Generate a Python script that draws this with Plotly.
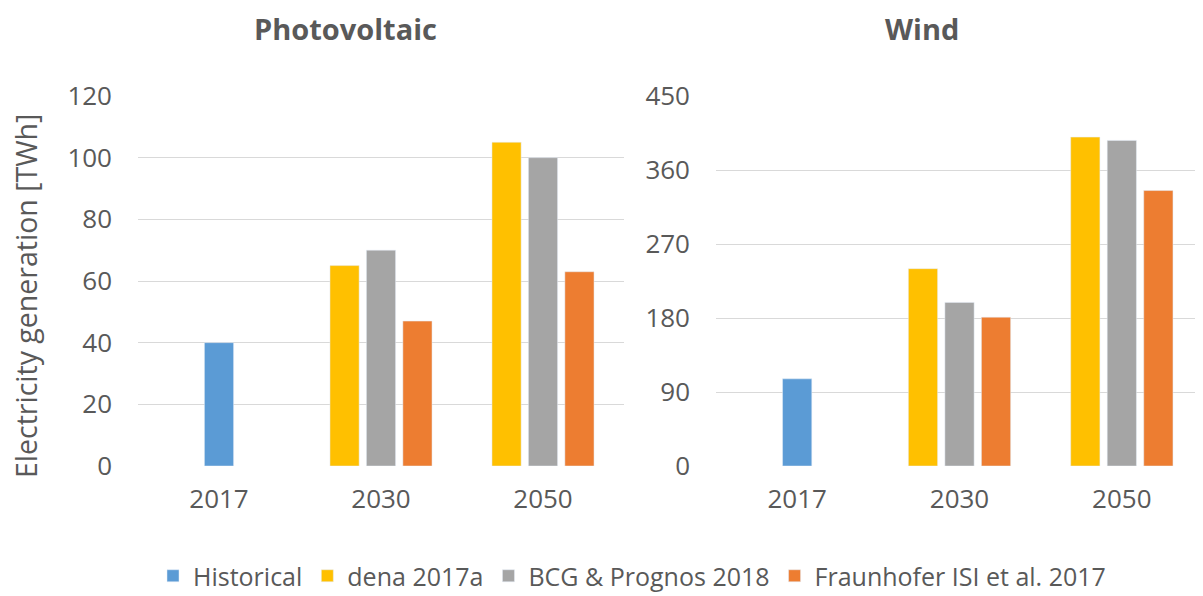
import plotly.graph_objects as go
from plotly.subplots import make_subplots

categories = ["2017", "2030", "2050"]
series_names = ["Historical", "dena 2017a", "BCG & Prognos 2018", "Fraunhofer ISI et al. 2017"]
series_colors = ["#5B9BD5", "#FFC000", "#A5A5A5", "#ED7D31"]

pv_historical = [40, None, None]
pv_dena = [None, 65, 105]
pv_bcg = [None, 70, 100]
pv_fraunhofer = [None, 47, 63]

wind_historical = [106, None, None]
wind_dena = [None, 240, 400]
wind_bcg = [None, 199, 396]
wind_fraunhofer = [None, 181, 335]

pv_ticks = [0, 20, 40, 60, 80, 100, 120]
wind_ticks = [0, 90, 180, 270, 360, 450]

# the page body adds an 8px margin, so the figure is laid out 8px smaller / shifted
PAD = 8
W, H = 1203 - PAD, 596 - PAD
FONT = "Open Sans"
TXT = "#595959"

bar_w = 0.18
step = 0.225
offsets = [-bar_w / 2, -bar_w / 2 - step, -bar_w / 2, -bar_w / 2 + step]

fig = make_subplots(rows=1, cols=2)
pv = [pv_historical, pv_dena, pv_bcg, pv_fraunhofer]
wd = [wind_historical, wind_dena, wind_bcg, wind_fraunhofer]
for i, name in enumerate(series_names):
    fig.add_trace(go.Bar(x=categories, y=pv[i], name=name, marker_color=series_colors[i],
                         width=bar_w, offset=offsets[i], legendgroup=name, showlegend=True),
                  row=1, col=1)
    fig.add_trace(go.Bar(x=categories, y=wd[i], name=name, marker_color=series_colors[i],
                         width=bar_w, offset=offsets[i], legendgroup=name, showlegend=False),
                  row=1, col=2)

top, bottom = 96 - PAD, 466 - PAD
ph = bottom - top


def px_x(x):
    return (x - PAD) / W


def px_y(y):
    return (bottom - (y - PAD)) / ph


fig.update_layout(
    width=W, height=H,
    margin=dict(l=0, r=0, t=top, b=H - bottom, autoexpand=False),
    paper_bgcolor="white", plot_bgcolor="white",
    barmode="overlay",
    font=dict(family=FONT, color=TXT, size=26),
    legend=dict(orientation="h", x=px_x(632), xanchor="center", y=px_y(576), yanchor="middle",
                font=dict(size=25, color=TXT), itemwidth=30, traceorder="normal"),
    showlegend=True,
)
fig.update_xaxes(row=1, col=1, domain=[px_x(138), px_x(624)])
fig.update_xaxes(row=1, col=2, domain=[px_x(716), 1.0])
fig.update_xaxes(type="category", showgrid=False, showline=False, zeroline=False, automargin=False,
                 ticks="", tickfont=dict(size=26, color=TXT), ticklabelstandoff=15)
fig.update_yaxes(showgrid=True, gridcolor="#D9D9D9", gridwidth=1.3, zeroline=False, automargin=False,
                 showline=False, ticks="", tickfont=dict(size=26, color=TXT), ticklabelstandoff=25)
fig.update_yaxes(row=1, col=1, range=[0, 120], tickvals=pv_ticks)
fig.update_yaxes(row=1, col=2, range=[0, 450], tickvals=wind_ticks)

fig.add_annotation(text="<b>Photovoltaic</b>", x=px_x(345), y=px_y(28), xref="paper", yref="paper",
                   showarrow=False, xanchor="center", yanchor="middle", font=dict(size=29, color=TXT))
fig.add_annotation(text="<b>Wind</b>", x=px_x(922), y=px_y(28), xref="paper", yref="paper",
                   showarrow=False, xanchor="center", yanchor="middle", font=dict(size=29, color=TXT))
fig.add_annotation(text="Electricity generation [TWh]", x=px_x(26), y=px_y(296), xref="paper", yref="paper",
                   showarrow=False, xanchor="center", yanchor="middle", textangle=-90,
                   font=dict(size=28.5, color=TXT))

fig.write_html("out.html")
